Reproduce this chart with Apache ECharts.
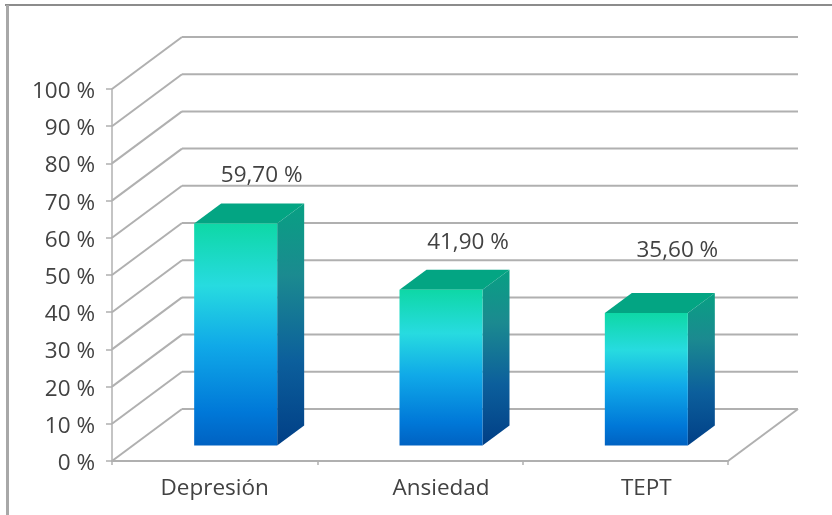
<!DOCTYPE html>
<html>
<head>
<meta charset="utf-8">
<style>html,body{margin:0;padding:0;background:#fff}#chart{width:832px;height:515px}</style>
<script src="https://cdn.jsdelivr.net/npm/echarts@6/dist/echarts.min.js"></script>
</head>
<body>
<div id="chart"></div>
<script>
// Prevalence by disorder
const categories = ['Depresión', 'Ansiedad', 'TEPT'];
const prevalence = [59.7, 41.9, 35.6];
const wallLevels = [0, 10, 20, 30, 40, 50, 60, 70, 80, 90, 100];

// Pseudo-3D projection of the plot box and the bars
const WALL_DX = 70, WALL_DY = -52;
const BAR_DX = 21, BAR_DY = -15.5, BAR_W = 83, DEPTH_DX = 27, DEPTH_DY = -20;
const LINE = '#b0b0b0', INK = '#424242', FONT = '"Open Sans", sans-serif', TEXT_SIZE = 22.5;
// Per-bar placement of the value labels and shift of the category names
const valueLabelShift = [[26, -28], [27, -27], [31, -42]];
const categoryPad = [0, 42, 42];

const vGrad = (stops) => new echarts.graphic.LinearGradient(0, 0, 0, 1,
  stops.map(([offset, color]) => ({ offset, color })));
const frontFill = vGrad([[0, '#0ed8a6'], [0.28, '#27dbe0'], [0.55, '#10a9e8'], [0.85, '#0078d8'], [1, '#0062c2']]);
const sideFill = vGrad([[0, '#08a083'], [0.3, '#1b8a90'], [0.65, '#0c5f9c'], [1, '#013f86']]);

function renderWalls(params, api) {
  const v = api.value(0);
  const cs = params.coordSys;
  const y = api.coord([0, v])[1];
  const style = { stroke: LINE, lineWidth: 2 };
  const x0 = cs.x, x1 = cs.x + cs.width;
  const children = [
    { type: 'line', shape: { x1: x0, y1: y, x2: x0 + WALL_DX, y2: y + WALL_DY }, style },
    { type: 'line', shape: { x1: x0 + WALL_DX, y1: y + WALL_DY, x2: x1 + WALL_DX, y2: y + WALL_DY }, style }
  ];
  if (v === 0) {
    children.push({ type: 'line', shape: { x1, y1: y, x2: x1 + WALL_DX, y2: y + WALL_DY }, style });
  }
  return { type: 'group', children };
}

function renderBar(params, api) {
  const i = api.value(0), v = api.value(1);
  const base = api.coord([i, 0]), top = api.coord([i, v]);
  const l = base[0] + BAR_DX - BAR_W / 2, r = l + BAR_W;
  const b = base[1] + BAR_DY, t = top[1] + BAR_DY;
  const shift = valueLabelShift[i];
  const cx = (l + r) / 2;
  return {
    type: 'group',
    children: [
      { type: 'polygon', shape: { points: [[l, t], [r, t], [r + DEPTH_DX, t + DEPTH_DY], [l + DEPTH_DX, t + DEPTH_DY]] }, style: { fill: '#03a583' } },
      { type: 'polygon', shape: { points: [[r, t], [r + DEPTH_DX, t + DEPTH_DY], [r + DEPTH_DX, b + DEPTH_DY], [r, b]] }, style: { fill: sideFill } },
      { type: 'rect', shape: { x: l, y: t, width: BAR_W, height: b - t }, style: { fill: frontFill } },
      { type: 'text', x: cx + shift[0], y: t + DEPTH_DY + shift[1],
        style: { text: v.toFixed(2).replace('.', ',') + ' %', fill: INK, font: TEXT_SIZE + 'px ' + FONT, textAlign: 'center', textVerticalAlign: 'middle' } }
    ]
  };
}

const chart = echarts.init(document.getElementById('chart'));
chart.setOption({
  animation: false,
  backgroundColor: '#fff',
  graphic: [
    { type: 'rect', left: 5, top: 4, shape: { width: 832, height: 2 }, style: { fill: '#8c8c8c' }, silent: true },
    { type: 'rect', left: 6, top: 5, shape: { width: 3, height: 515 }, style: { fill: '#a8a8a8' }, silent: true }
  ],
  grid: { left: 112, right: 104, top: 89, bottom: 54 },
  xAxis: {
    type: 'category',
    data: categories,
    axisLine: { lineStyle: { color: LINE, width: 2 } },
    axisTick: { show: true, length: 4, lineStyle: { color: LINE, width: 1.5 } },
    axisLabel: {
      margin: 16,
      interval: 0,
      formatter: (name, idx) => `{c${idx}|${name}}`,
      rich: Object.fromEntries(categoryPad.map((p, i) => [`c${i}`, {
        fontFamily: FONT, fontSize: TEXT_SIZE, color: INK, padding: [0, 0, 0, p]
      }]))
    }
  },
  yAxis: {
    type: 'value',
    min: 0,
    max: 100,
    interval: 10,
    splitLine: { show: false },
    axisLine: { show: true, lineStyle: { color: LINE, width: 1.5 } },
    axisTick: { show: true, length: 6, lineStyle: { color: LINE, width: 1.5 } },
    axisLabel: {
      margin: 17,
      formatter: (v) => `{t|${v} %}`,
      rich: { t: { fontFamily: FONT, fontSize: TEXT_SIZE, color: INK, padding: [5, 0, 0, 0] } }
    }
  },
  series: [
    { type: 'custom', renderItem: renderWalls, clip: false, silent: true, z: 1,
      encode: { y: 0 }, data: wallLevels.map(v => [v]) },
    { type: 'custom', renderItem: renderBar, clip: false, silent: true, z: 2,
      encode: { x: 0, y: 1 }, data: prevalence.map((v, i) => [i, v]) }
  ]
});
</script>
</body>
</html>
